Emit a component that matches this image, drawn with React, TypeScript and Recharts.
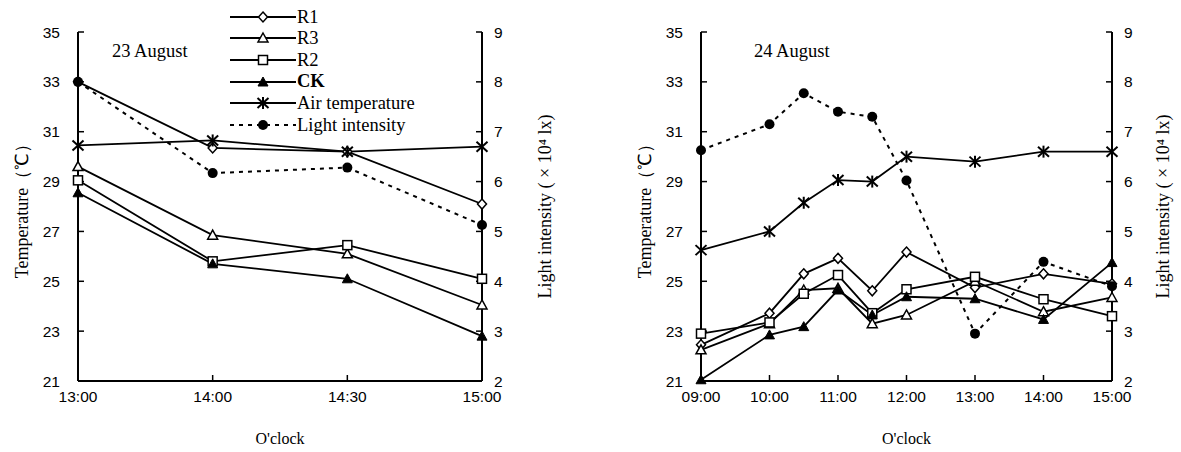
import React from "react";
import { LineChart, Line, XAxis, YAxis, Legend } from "recharts";

// 23 August
const DAY1_TIMES = ["13:00", "14:00", "14:30", "15:00"];
const DAY1_R1 = [33.0, 30.35, 30.2, 28.1];
const DAY1_R3 = [29.6, 26.85, 26.1, 24.05];
const DAY1_R2 = [29.05, 25.8, 26.45, 25.1];
const DAY1_CK = [28.55, 25.7, 25.1, 22.8];
const DAY1_AIR = [30.45, 30.65, 30.2, 30.4];
const DAY1_LIGHT = [8.0, 6.17, 6.28, 5.13];

// 24 August
const DAY2_HOURS = [9, 10, 10.5, 11, 11.5, 12, 13, 14, 15];
const DAY2_R1 = [22.45, 23.72, 25.3, 25.92, 24.62, 26.17, 24.75, 25.3, 24.9];
const DAY2_R3 = [22.25, 23.3, 24.65, 24.72, 23.3, 23.65, 25.0, 23.78, 24.35];
const DAY2_R2 = [22.9, 23.35, 24.5, 25.25, 23.72, 24.68, 25.18, 24.28, 23.6];
const DAY2_CK = [21.05, 22.85, 23.18, 24.65, 23.65, 24.38, 24.3, 23.47, 25.75];
const DAY2_AIR = [26.25, 27.0, 28.15, 29.06, 29.0, 30.0, 29.8, 30.2, 30.2];
const DAY2_LIGHT = [6.63, 7.15, 7.77, 7.4, 7.3, 6.02, 2.95, 4.39, 3.9];

const TEMP_TICKS = [21, 23, 25, 27, 29, 31, 33, 35];
const LIGHT_TICKS = [2, 3, 4, 5, 6, 7, 8, 9];
const HOUR_TICKS = [9, 10, 11, 12, 13, 14, 15];

const SERIES = [
  { key: "r1", name: "R1", shape: "diamond" },
  { key: "r3", name: "R3", shape: "triangle" },
  { key: "r2", name: "R2", shape: "square" },
  { key: "ck", name: "CK", shape: "filledTriangle" },
  { key: "air", name: "Air temperature", shape: "star" },
  { key: "light", name: "Light intensity", shape: "dot" },
];

const day1 = DAY1_TIMES.map((t, i) => ({
  time: t, r1: DAY1_R1[i], r3: DAY1_R3[i], r2: DAY1_R2[i], ck: DAY1_CK[i], air: DAY1_AIR[i], light: DAY1_LIGHT[i],
}));
const day2 = DAY2_HOURS.map((h, i) => ({
  hour: h, r1: DAY2_R1[i], r3: DAY2_R3[i], r2: DAY2_R2[i], ck: DAY2_CK[i], air: DAY2_AIR[i], light: DAY2_LIGHT[i],
}));

const SANS = "'Liberation Sans', Arial, sans-serif";
const SERIF = "'Liberation Serif', 'Times New Roman', serif";
const tickStyle = { fontSize: 15.5, fill: "#000", fontFamily: SANS };

function Marker({ shape, cx, cy }: { shape: string; cx: number; cy: number }) {
  if (cx == null || cy == null) return null;
  switch (shape) {
    case "diamond":
      return <path d={`M${cx},${cy - 5}L${cx + 4.5},${cy}L${cx},${cy + 5}L${cx - 4.5},${cy}Z`} fill="#fff" stroke="#000" strokeWidth={1.5} />;
    case "triangle":
      return <path d={`M${cx},${cy - 5}L${cx + 5},${cy + 4}L${cx - 5},${cy + 4}Z`} fill="#fff" stroke="#000" strokeWidth={1.5} />;
    case "filledTriangle":
      return <path d={`M${cx},${cy - 5}L${cx + 5},${cy + 4}L${cx - 5},${cy + 4}Z`} fill="#000" stroke="#000" strokeWidth={1} />;
    case "square":
      return <rect x={cx - 4.5} y={cy - 4.5} width={9} height={9} fill="#fff" stroke="#000" strokeWidth={1.5} />;
    case "star":
      return (
        <g stroke="#000" strokeWidth={2}>
          <line x1={cx} y1={cy - 6} x2={cx} y2={cy + 6} />
          <line x1={cx - 5.5} y1={cy - 5} x2={cx + 5.5} y2={cy + 5} />
          <line x1={cx - 5.5} y1={cy + 5} x2={cx + 5.5} y2={cy - 5} />
        </g>
      );
    default:
      return <circle cx={cx} cy={cy} r={5} fill="#000" />;
  }
}

function renderLines() {
  return SERIES.map((s) => (
    <Line
      key={s.key}
      yAxisId={s.key === "light" ? "light" : "temp"}
      dataKey={s.key}
      name={s.name}
      stroke="#000"
      strokeWidth={s.key === "light" ? 2 : 1.8}
      strokeDasharray={s.key === "light" ? "4 5" : undefined}
      dot={(p: any) => <Marker key={`${s.key}-${p.index}`} shape={s.shape} cx={p.cx} cy={p.cy} />}
      isAnimationActive={false}
    />
  ));
}

function LegendBox() {
  return (
    <div style={{ fontFamily: SERIF, fontSize: 18.5, color: "#000" }}>
      {SERIES.map((s) => (
        <div key={s.key} style={{ display: "flex", alignItems: "center", height: 21.6 }}>
          <svg width={66} height={20}>
            <line x1={0} y1={10} x2={66} y2={10} stroke="#000" strokeWidth={1.8} strokeDasharray={s.key === "light" ? "4 5" : undefined} />
            <Marker shape={s.shape} cx={33} cy={10} />
          </svg>
          <span style={{ marginLeft: 1, fontWeight: s.key === "ck" ? "bold" : "normal", lineHeight: 1 }}>{s.name}</span>
        </div>
      ))}
    </div>
  );
}

const axisTitle = { textAnchor: "middle", fontFamily: SERIF, fontSize: 18, fill: "#000" };

function tempAxis(offset: number, width: number) {
  return (
    <YAxis
      yAxisId="temp"
      orientation="left"
      width={width}
      domain={[21, 35]}
      ticks={TEMP_TICKS}
      tick={tickStyle}
      tickSize={-6}
      tickMargin={24}
      axisLine={{ stroke: "#000", strokeWidth: 2 }}
      tickLine={{ stroke: "#000", strokeWidth: 1.5 }}
      label={{ value: "Temperature（℃）", angle: -90, position: "insideLeft", offset, style: axisTitle }}
    />
  );
}

function lightAxis(offset: number, width: number) {
  return (
    <YAxis
      yAxisId="light"
      orientation="right"
      width={width}
      domain={[2, 9]}
      ticks={LIGHT_TICKS}
      tick={tickStyle}
      tickSize={-6}
      tickMargin={18}
      axisLine={{ stroke: "#000", strokeWidth: 2 }}
      tickLine={{ stroke: "#000", strokeWidth: 1.5 }}
      label={{ value: "Light intensity ( × 10⁴ lx)", angle: -90, position: "insideRight", offset, style: axisTitle }}
    />
  );
}

const xLabel = { value: "O'clock", position: "insideBottom" as const, offset: 8, style: { fontFamily: SERIF, fontSize: 16, fill: "#000" } };

export default function App() {
  return (
    <div style={{ position: "absolute", left: 0, top: 0, width: 1181, height: 452, background: "#fff" }}>
      <div style={{ position: "absolute", left: 0, top: 0 }}>
        <LineChart width={562} height={452} data={day1} margin={{ top: 32, right: 0, bottom: 0, left: 0 }}>
          <XAxis
            dataKey="time"
            scale="point"
            padding={{ left: 0, right: 0 }}
            height={71}
            tick={tickStyle}
            tickSize={-6}
            tickMargin={16}
            axisLine={{ stroke: "#000", strokeWidth: 2 }}
            tickLine={{ stroke: "#000", strokeWidth: 1.5 }}
            label={xLabel}
          />
          {tempAxis(22, 78)}
          {lightAxis(17, 80)}
          {renderLines()}
          <Legend
            layout="vertical"
            align="center"
            verticalAlign="middle"
            wrapperStyle={{ left: 230, top: 6, width: 220 }}
            content={() => <LegendBox />}
          />
        </LineChart>
        <div style={{ position: "absolute", left: 112, top: 41, fontFamily: SERIF, fontSize: 18.5 }}>23 August</div>
      </div>
      <div style={{ position: "absolute", left: 621, top: 0 }}>
        <LineChart width={560} height={452} data={day2} margin={{ top: 32, right: 0, bottom: 0, left: 0 }}>
          <XAxis
            dataKey="hour"
            type="number"
            domain={[9, 15]}
            ticks={HOUR_TICKS}
            tickFormatter={(h: number) => `${String(h).padStart(2, "0")}:00`}
            height={71}
            tick={tickStyle}
            tickSize={-6}
            tickMargin={16}
            axisLine={{ stroke: "#000", strokeWidth: 2 }}
            tickLine={{ stroke: "#000", strokeWidth: 1.5 }}
            label={xLabel}
          />
          {tempAxis(24, 80)}
          {lightAxis(18, 69)}
          {renderLines()}
        </LineChart>
        <div style={{ position: "absolute", left: 133, top: 41, fontFamily: SERIF, fontSize: 18.5 }}>24 August</div>
      </div>
    </div>
  );
}
